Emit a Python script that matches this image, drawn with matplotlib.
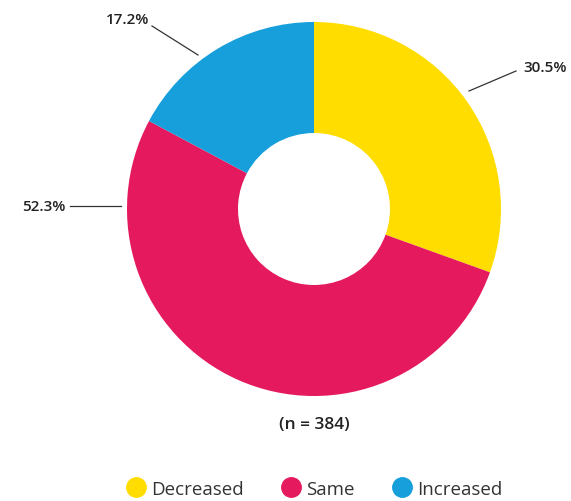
import matplotlib.pyplot as plt
from matplotlib.lines import Line2D

# Data
labels = ["Decreased", "Same", "Increased"]
values = [30.5, 52.3, 17.2]
colors = ["#FFDD00", "#E5195E", "#169FDB"]
n_total = 384

plt.rcParams['font.family'] = ['Open Sans', 'DejaVu Sans']

W, H = 571, 502
fig = plt.figure(figsize=(W / 100, H / 100), dpi=100)
ax = fig.add_axes([0, 0, 1, 1])

# donut (pixel coords, y downwards)
cx, cy, r_out, r_in = 314, 210, 187, 76
wedges, _ = ax.pie(values, colors=colors, startangle=-90, counterclock=True,
                   radius=r_out, center=(cx, cy), frame=True,
                   wedgeprops=dict(width=r_out - r_in, linewidth=0))
ax.set_xlim(0, W)
ax.set_ylim(H, 0)
ax.set_aspect('equal')
ax.axis('off')

# percentage labels with leader lines
label_pos = [(545, 68), (44, 207), (128, 20)]
line_start = [(469, 92), (121, 207), (198, 56)]
line_end = [(516, 72), (70, 207), (152, 27)]
for v, (tx, ty), (sx, sy), (ex, ey) in zip(values, label_pos, line_start, line_end):
    ax.plot([sx, ex], [sy, ey], color="#333333", lw=0.9)
    ax.text(tx, ty, f"{v}%", ha="center", va="center", fontsize=11,
            color="#222222", fontweight="semibold")

ax.text(cx, 425, f"(n = {n_total})", ha="center", va="center", fontsize=12.5,
        color="#222222", fontweight="semibold")

handles = [Line2D([], [], marker='o', linestyle='', markersize=14,
                  markerfacecolor=c, markeredgecolor=c) for c in colors]
leg = ax.legend(handles, labels, loc="center", bbox_to_anchor=(cx / W, 1 - 490 / H),
                ncol=3, frameon=False, fontsize=13.5, handletextpad=0.25,
                columnspacing=2.0, handlelength=1.1)
for t in leg.get_texts():
    t.set_color("#333333")

fig.savefig("out.png", dpi=100)
